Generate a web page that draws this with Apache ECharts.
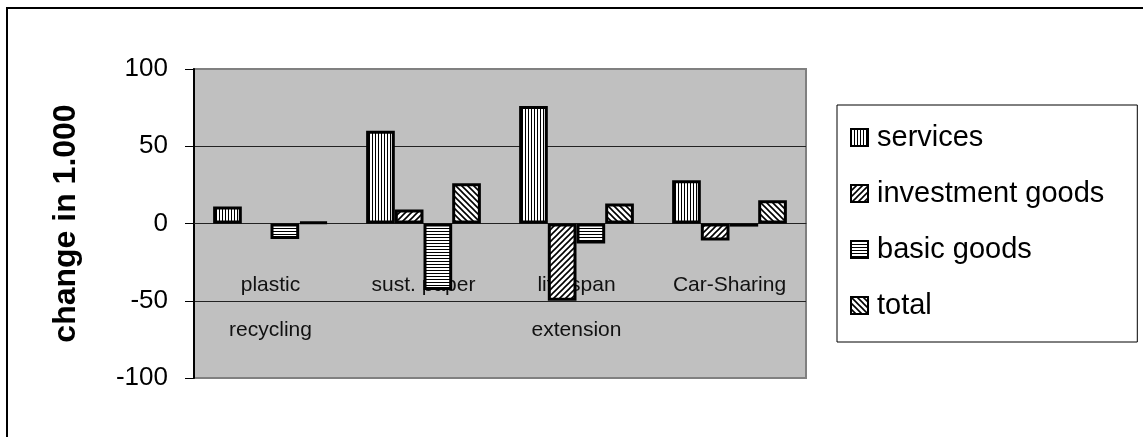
<!DOCTYPE html>
<html>
<head>
    <meta charset="utf-8">
    <title>ECharts</title>
    <script type="text/javascript" src="https://cdn.jsdelivr.net/npm/echarts@6/dist/echarts.min.js"></script>
    <style>
        body { margin: 0; background: #fff; }
    </style>
</head>
<body>
    <div id="main" style="width: 1143px;height:437px;"></div>
    <script type="text/javascript">
        // values (change in 1.000); null = no bar drawn
        var categories = ['plastic\nrecycling', 'sust. paper', 'life span\nextension', 'Car-Sharing'];
        var services = [11, 60, 76, 28];
        var investmentGoods = [null, 9, -50, -11];
        var basicGoods = [-10, -43, -13, -2];
        var total = [1, 26, 13, 15];
        var yTicks = [-100, -50, 0, 50, 100];

        // black-on-white hatch fills like the old office chart
        function hatch(kind) {
            var c = document.createElement('canvas');
            var s = kind === 'v' || kind === 'h' ? 3 : 6;
            c.width = s; c.height = s;
            var ctx = c.getContext('2d');
            ctx.fillStyle = '#fff';
            ctx.fillRect(0, 0, s, s);
            ctx.strokeStyle = '#000';
            if (kind === 'v') {
                ctx.fillStyle = '#000';
                ctx.fillRect(0, 0, 1, s);
            } else if (kind === 'h') {
                ctx.fillStyle = '#000';
                ctx.fillRect(0, 0, s, 1);
            } else {
                ctx.lineWidth = 1.6;
                ctx.beginPath();
                if (kind === 'f') {
                    ctx.moveTo(-1, s + 1); ctx.lineTo(s + 1, -1);
                    ctx.moveTo(-1, 1); ctx.lineTo(1, -1);
                    ctx.moveTo(s - 1, s + 1); ctx.lineTo(s + 1, s - 1);
                } else {
                    ctx.moveTo(-1, -1); ctx.lineTo(s + 1, s + 1);
                    ctx.moveTo(s - 1, -1); ctx.lineTo(s + 1, 1);
                    ctx.moveTo(-1, s - 1); ctx.lineTo(1, s + 1);
                }
                ctx.stroke();
            }
            return { image: c, repeat: 'repeat' };
        }

        var fills = [hatch('v'), hatch('f'), hatch('h'), hatch('b')];
        var names = ['services', 'investment goods', 'basic goods', 'total'];
        var values = [services, investmentGoods, basicGoods, total];

        var gridTop = 69, gridBottom = 59, plotH = 437 - gridTop - gridBottom;

        var option = {
            animation: false,
            textStyle: { fontFamily: 'Liberation Sans, Arial, sans-serif' },
            graphic: [{
                type: 'rect',
                shape: { x: 7, y: 8, width: 1300, height: 600 },
                style: { fill: 'none', stroke: '#000', lineWidth: 2 },
                silent: true
            }],
            grid: {
                left: 194, right: 337, top: gridTop, bottom: gridBottom,
                containLabel: false,
                outerBoundsMode: 'none',
                show: true,
                backgroundColor: '#c0c0c0',
                borderColor: '#808080',
                borderWidth: 2
            },
            legend: {
                orient: 'vertical',
                left: 837, top: 105,
                data: names,
                icon: 'rect',
                itemWidth: 17, itemHeight: 17,
                itemGap: 27,
                padding: [18, 33, 22, 13],
                borderColor: '#000', borderWidth: 1,
                backgroundColor: '#fff',
                itemStyle: { borderColor: '#000', borderWidth: 2 },
                textStyle: { fontSize: 29, color: '#000', lineHeight: 29, padding: [0, 0, 0, 4] }
            },
            xAxis: {
                type: 'category',
                data: categories,
                // the category axis sits on the zero line, labels hang inside the plot
                offset: -plotH / 2,
                axisLine: { onZero: false, lineStyle: { color: '#222', width: 1 } },
                axisTick: { length: 8, lineStyle: { color: '#222' } },
                axisLabel: {
                    fontSize: 21, color: '#111', lineHeight: 45, margin: 39,
                    interval: 0
                },
                splitLine: { show: false }
            },
            yAxis: {
                type: 'value',
                min: yTicks[0], max: yTicks[yTicks.length - 1], interval: 50,
                name: 'change in 1.000',
                nameLocation: 'middle',
                nameGap: 112,
                nameTextStyle: { fontSize: 32, fontWeight: 'bold', color: '#000' },
                axisLine: { show: true, lineStyle: { color: '#000', width: 2 } },
                axisTick: { show: true, length: 9, lineStyle: { color: '#000' } },
                axisLabel: { fontSize: 26, color: '#000', margin: 26 },
                splitLine: {
                    show: true,
                    lineStyle: { color: ['#808080', '#222', '#222', '#222', '#808080'], width: 1 }
                }
            },
            series: names.map(function (n, i) {
                return {
                    name: n,
                    type: 'bar',
                    data: values[i],
                    barGap: 0,
                    barCategoryGap: '25%',
                    itemStyle: { color: fills[i], borderColor: '#000', borderWidth: 3 }
                };
            })
        };

        echarts.init(document.getElementById('main')).setOption(option);
    </script>
</body>
</html>
